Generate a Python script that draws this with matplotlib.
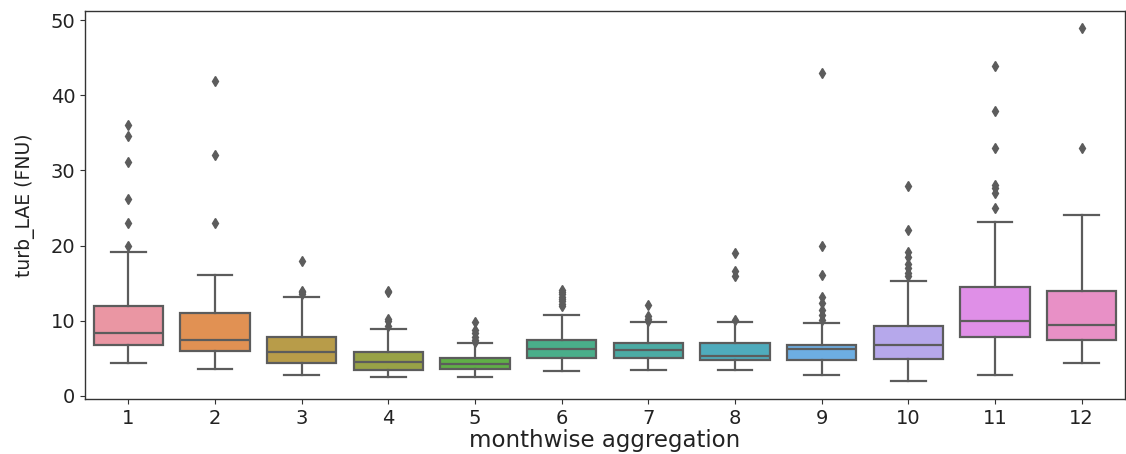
import matplotlib
matplotlib.use("Agg")
import matplotlib.pyplot as plt
import seaborn as sns

# Monthly turbidity summary statistics (FNU)
months = [1, 2, 3, 4, 5, 6, 7, 8, 9, 10, 11, 12]
whislo = [4.4, 3.6, 2.8, 2.5, 2.5, 3.3, 3.5, 3.5, 2.8, 2.0, 2.8, 4.4]
q1 = [6.8, 6.0, 4.4, 3.5, 3.6, 5.1, 5.1, 4.8, 4.8, 4.9, 7.9, 7.4]
median = [8.4, 7.4, 5.9, 4.5, 4.3, 6.3, 6.1, 5.3, 6.2, 6.8, 10.0, 9.5]
q3 = [12.0, 11.1, 7.9, 5.8, 5.0, 7.4, 7.1, 7.0, 6.8, 9.3, 14.5, 14.0]
whishi = [19.1, 16.1, 13.2, 8.9, 7.0, 10.8, 9.8, 9.9, 9.7, 15.3, 23.1, 24.1]
outliers = [
    [20.0, 23.0, 26.2, 31.1, 34.6, 36.0],
    [23.0, 32.0, 41.9],
    [13.6, 13.8, 14.0, 18.0],
    [9.3, 10.0, 10.2, 13.8, 14.0],
    [7.2, 7.5, 7.9, 8.4, 8.8, 9.9],
    [12.0, 12.3, 12.6, 12.9, 13.2, 13.5, 13.8, 14.1],
    [10.0, 10.3, 10.6, 12.1],
    [10.1, 15.9, 16.6, 19.0],
    [10.1, 10.8, 11.4, 12.4, 13.2, 16.1, 20.0, 43.0],
    [15.9, 16.3, 17.0, 17.6, 18.5, 19.2, 22.1, 27.9],
    [25.0, 27.0, 27.6, 28.0, 33.0, 37.9, 43.9],
    [33.0, 49.0],
]

stats = [
    dict(label=str(m), whislo=lo, q1=a, med=md, q3=b, whishi=hi, fliers=fl)
    for m, lo, a, md, b, hi, fl in zip(months, whislo, q1, median, q3, whishi, outliers)
]

palette = [sns.desaturate(c, 0.75) for c in sns.husl_palette(len(months), l=0.7)]
line_gray = "#5c5c5c"

fig = plt.figure(figsize=(11.26, 4.54), dpi=100)
ax = fig.add_axes([85 / 1126, 1 - 399 / 454, 1040 / 1126, 388 / 454])

bp = ax.bxp(
    stats,
    positions=range(len(months)),
    widths=0.8,
    patch_artist=True,
    showfliers=True,
    boxprops=dict(edgecolor=line_gray, linewidth=1.6),
    whiskerprops=dict(color=line_gray, linewidth=1.6),
    capprops=dict(color=line_gray, linewidth=1.6),
    medianprops=dict(color=line_gray, linewidth=1.6),
    flierprops=dict(marker="d", markerfacecolor=line_gray, markeredgecolor=line_gray,
                    markersize=5.5, linestyle="none"),
)
for patch, color in zip(bp["boxes"], palette):
    patch.set_facecolor(color)

# Caps at half the box width, as seaborn draws them
for i, cap in enumerate(bp["caps"]):
    pos = i // 2
    cap.set_xdata([pos - 0.2, pos + 0.2])

ax.set_xlim(-0.5, len(months) - 0.5)
ax.set_ylim(-0.4, 51.2)
ax.set_yticks([0, 10, 20, 30, 40, 50])
ax.set_xticks(range(len(months)))
ax.set_xticklabels([str(m) for m in months])
ax.tick_params(axis="both", labelsize=14, color="#333333", labelcolor="#222222")

for spine in ax.spines.values():
    spine.set_color("#333333")
    spine.set_linewidth(1.0)

ax.set_xlabel("monthwise aggregation", fontsize=16.5, color="#222222", labelpad=1)
ax.set_ylabel("turb_LAE (FNU)", fontsize=13.5, color="#222222", labelpad=11)

fig.savefig("out.png", dpi=100)
